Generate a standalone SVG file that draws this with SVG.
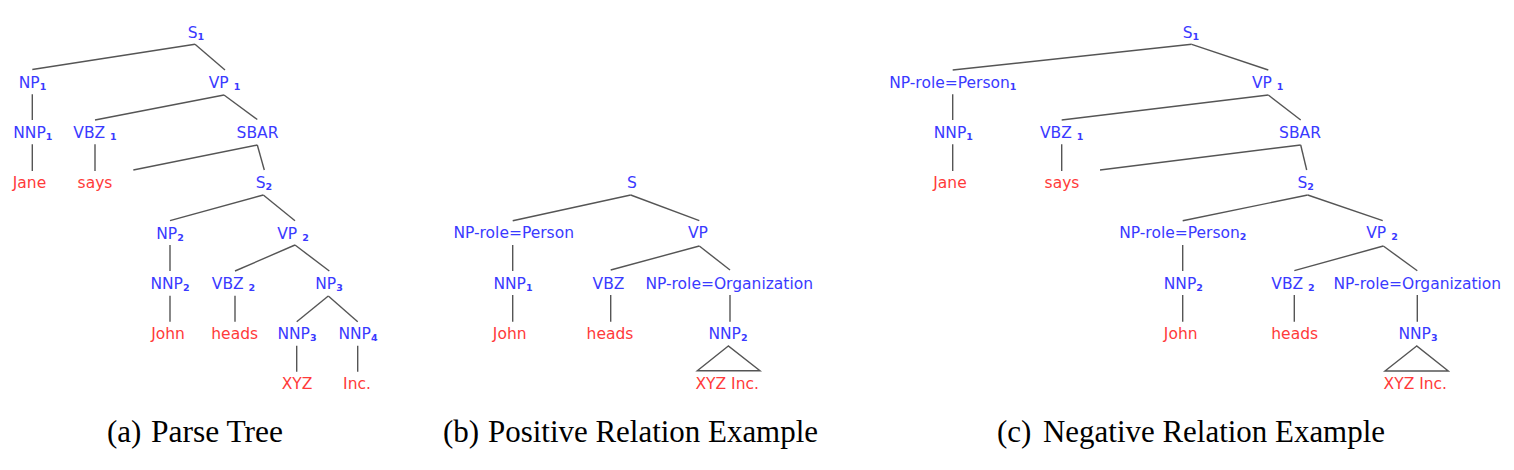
<svg xmlns="http://www.w3.org/2000/svg" width="1514" height="470" viewBox="0 0 1514 470">
<style>
.n{font-family:"DejaVu Sans",sans-serif;font-size:15.5px;fill:#3a3aff;text-anchor:middle}
.w{font-family:"DejaVu Sans",sans-serif;font-size:15.5px;fill:#ff3a3a;text-anchor:middle}
.s{font-size:9.5px;font-weight:bold}
.e line,.e polygon{stroke:#555;stroke-width:1.4;fill:none}
.cap{font-family:"Liberation Serif","Times New Roman",serif;font-size:31px;fill:#000}
</style>
<rect width="1514" height="470" fill="#fff"/>
<!-- Tree (a) -->
<g id="a-S1"><text class="n" x="196" y="38">S<tspan class="s" dy="2">1</tspan></text></g>
<g id="a-NP1"><text class="n" x="32.5" y="88">NP<tspan class="s" dy="2">1</tspan></text></g>
<g id="a-VP1"><text class="n" x="224.5" y="88">VP <tspan class="s" dy="2">1</tspan></text></g>
<g id="a-NNP1"><text class="n" x="32.8" y="138">NNP<tspan class="s" dy="2">1</tspan></text></g>
<g id="a-VBZ1"><text class="n" x="95" y="138">VBZ <tspan class="s" dy="2">1</tspan></text></g>
<g id="a-SBAR"><text class="n" x="257.5" y="138">SBAR</text></g>
<g id="a-Jane"><text class="w" x="29.5" y="188">Jane</text></g>
<g id="a-says"><text class="w" x="95" y="188">says</text></g>
<g id="a-S2"><text class="n" x="264" y="188">S<tspan class="s" dy="2">2</tspan></text></g>
<g id="a-NP2"><text class="n" x="170" y="238.5">NP<tspan class="s" dy="2">2</tspan></text></g>
<g id="a-VP2"><text class="n" x="293" y="238.5">VP <tspan class="s" dy="2">2</tspan></text></g>
<g id="a-NNP2"><text class="n" x="170" y="288.5">NNP<tspan class="s" dy="2">2</tspan></text></g>
<g id="a-VBZ2"><text class="n" x="233.5" y="288.5">VBZ <tspan class="s" dy="2">2</tspan></text></g>
<g id="a-NP3"><text class="n" x="329" y="288.5">NP<tspan class="s" dy="2">3</tspan></text></g>
<g id="a-John"><text class="w" x="168" y="338.5">John</text></g>
<g id="a-heads"><text class="w" x="234.7" y="338.5">heads</text></g>
<g id="a-NNP3"><text class="n" x="297" y="338.5">NNP<tspan class="s" dy="2">3</tspan></text></g>
<g id="a-NNP4"><text class="n" x="358" y="338.5">NNP<tspan class="s" dy="2">4</tspan></text></g>
<g id="a-XYZ"><text class="w" x="297" y="388.5">XYZ</text></g>
<g id="a-Inc"><text class="w" x="357" y="388.5">Inc.</text></g>
<!-- Tree (b) -->
<g id="b-S"><text class="n" x="632" y="188">S</text></g>
<g id="b-NPPerson"><text class="n" x="513.7" y="238">NP-role=Person</text></g>
<g id="b-VP"><text class="n" x="698" y="238">VP</text></g>
<g id="b-NNP1"><text class="n" x="513" y="288.5">NNP<tspan class="s" dy="2">1</tspan></text></g>
<g id="b-VBZ"><text class="n" x="608.5" y="288.5">VBZ</text></g>
<g id="b-NPOrg"><text class="n" x="729.2" y="288.5">NP-role=Organization</text></g>
<g id="b-John"><text class="w" x="509.7" y="338.5">John</text></g>
<g id="b-heads"><text class="w" x="610" y="338.5">heads</text></g>
<g id="b-NNP2"><text class="n" x="728" y="338.5">NNP<tspan class="s" dy="2">2</tspan></text></g>
<g id="b-XYZInc"><text class="w" x="727.2" y="388.5">XYZ Inc.</text></g>
<!-- Tree (c) -->
<g id="c-S1"><text class="n" x="1191" y="38">S<tspan class="s" dy="2">1</tspan></text></g>
<g id="c-NPPerson1"><text class="n" x="952.8" y="88">NP-role=Person<tspan class="s" dy="2">1</tspan></text></g>
<g id="c-VP1"><text class="n" x="1267.7" y="88">VP <tspan class="s" dy="2">1</tspan></text></g>
<g id="c-NNP1"><text class="n" x="953.3" y="138">NNP<tspan class="s" dy="2">1</tspan></text></g>
<g id="c-VBZ1"><text class="n" x="1061.7" y="138">VBZ <tspan class="s" dy="2">1</tspan></text></g>
<g id="c-SBAR"><text class="n" x="1300" y="138">SBAR</text></g>
<g id="c-Jane"><text class="w" x="950" y="188">Jane</text></g>
<g id="c-says"><text class="w" x="1062" y="188">says</text></g>
<g id="c-S2"><text class="n" x="1305.7" y="188">S<tspan class="s" dy="2">2</tspan></text></g>
<g id="c-NPPerson2"><text class="n" x="1182.8" y="238">NP-role=Person<tspan class="s" dy="2">2</tspan></text></g>
<g id="c-VP2"><text class="n" x="1382" y="238">VP <tspan class="s" dy="2">2</tspan></text></g>
<g id="c-NNP2"><text class="n" x="1183.3" y="288.5">NNP<tspan class="s" dy="2">2</tspan></text></g>
<g id="c-VBZ2"><text class="n" x="1293" y="288.5">VBZ <tspan class="s" dy="2">2</tspan></text></g>
<g id="c-NPOrg"><text class="n" x="1417.3" y="288.5">NP-role=Organization</text></g>
<g id="c-John"><text class="w" x="1180.7" y="338.5">John</text></g>
<g id="c-heads"><text class="w" x="1294.7" y="338.5">heads</text></g>
<g id="c-NNP3"><text class="n" x="1418" y="338.5">NNP<tspan class="s" dy="2">3</tspan></text></g>
<g id="c-XYZInc"><text class="w" x="1415.3" y="388.5">XYZ Inc.</text></g>
<!-- Connectors -->
<g id="connectors" class="e">
<line x1="195" y1="44.3" x2="32.3" y2="69.5"/>
<line x1="195" y1="44.3" x2="225" y2="70"/>
<line x1="32.3" y1="94.3" x2="32.3" y2="120"/>
<line x1="32.3" y1="144.3" x2="32.3" y2="171"/>
<line x1="224" y1="95" x2="95" y2="120"/>
<line x1="224" y1="95" x2="257.3" y2="119.5"/>
<line x1="95" y1="144.3" x2="95" y2="171"/>
<line x1="257.3" y1="145" x2="133.3" y2="170"/>
<line x1="257.3" y1="145" x2="264.3" y2="170"/>
<line x1="263.3" y1="195" x2="170" y2="220.7"/>
<line x1="263.3" y1="195" x2="295" y2="220.7"/>
<line x1="170" y1="245" x2="170" y2="271"/>
<line x1="170" y1="295.7" x2="170" y2="321.7"/>
<line x1="295" y1="245" x2="235" y2="271"/>
<line x1="295" y1="245" x2="329.3" y2="271"/>
<line x1="235" y1="295.7" x2="235" y2="321.7"/>
<line x1="328.3" y1="296" x2="296.7" y2="321.7"/>
<line x1="328.3" y1="296" x2="357.7" y2="321.7"/>
<line x1="296.7" y1="345.7" x2="296.7" y2="371.7"/>
<line x1="357.7" y1="345.7" x2="357.7" y2="371.7"/>

<line x1="630.7" y1="195" x2="512.7" y2="220.7"/>
<line x1="630.7" y1="195" x2="699.3" y2="220.7"/>
<line x1="512.7" y1="245" x2="512.7" y2="271"/>
<line x1="512.7" y1="295" x2="512.7" y2="321.7"/>
<line x1="699.3" y1="246" x2="610.7" y2="270"/>
<line x1="699.3" y1="246" x2="730" y2="270"/>
<line x1="610.7" y1="295" x2="610.7" y2="321.7"/>
<line x1="730" y1="295" x2="730" y2="321.7"/>
<polygon points="728.3,346 697.3,370.7 760,370.7"/>

<line x1="1191.7" y1="44.3" x2="952.7" y2="70"/>
<line x1="1191.7" y1="44.3" x2="1268.3" y2="70"/>
<line x1="952.7" y1="94.3" x2="952.7" y2="120"/>
<line x1="952.7" y1="144.3" x2="952.7" y2="171"/>
<line x1="1268.3" y1="95" x2="1061.7" y2="120"/>
<line x1="1268.3" y1="95" x2="1300.7" y2="120"/>
<line x1="1061.7" y1="144.3" x2="1061.7" y2="171"/>
<line x1="1300.7" y1="145" x2="1100" y2="170"/>
<line x1="1300.7" y1="145" x2="1306.7" y2="170"/>
<line x1="1307.7" y1="195" x2="1182.7" y2="220.7"/>
<line x1="1307.7" y1="195" x2="1382.7" y2="220.7"/>
<line x1="1182.7" y1="245" x2="1182.7" y2="271"/>
<line x1="1182.7" y1="295" x2="1182.7" y2="321.7"/>
<line x1="1383.3" y1="246" x2="1294.3" y2="270.7"/>
<line x1="1383.3" y1="246" x2="1417.3" y2="270.7"/>
<line x1="1294.3" y1="295" x2="1294.3" y2="321.7"/>
<line x1="1417.3" y1="295" x2="1417.3" y2="321.7"/>
<polygon points="1416.7,346 1385,371 1448.3,371"/>
</g>
<!-- Captions -->
<g id="captions">
<text class="cap" x="107" y="442">(a)</text><text class="cap" x="151" y="442" textLength="132" lengthAdjust="spacingAndGlyphs">Parse Tree</text>
<text class="cap" x="443" y="442">(b)</text><text class="cap" x="488" y="442" textLength="330" lengthAdjust="spacingAndGlyphs">Positive Relation Example</text>
<text class="cap" x="997" y="442">(c)</text><text class="cap" x="1043" y="442" textLength="342" lengthAdjust="spacingAndGlyphs">Negative Relation Example</text>
</g>
</svg>
